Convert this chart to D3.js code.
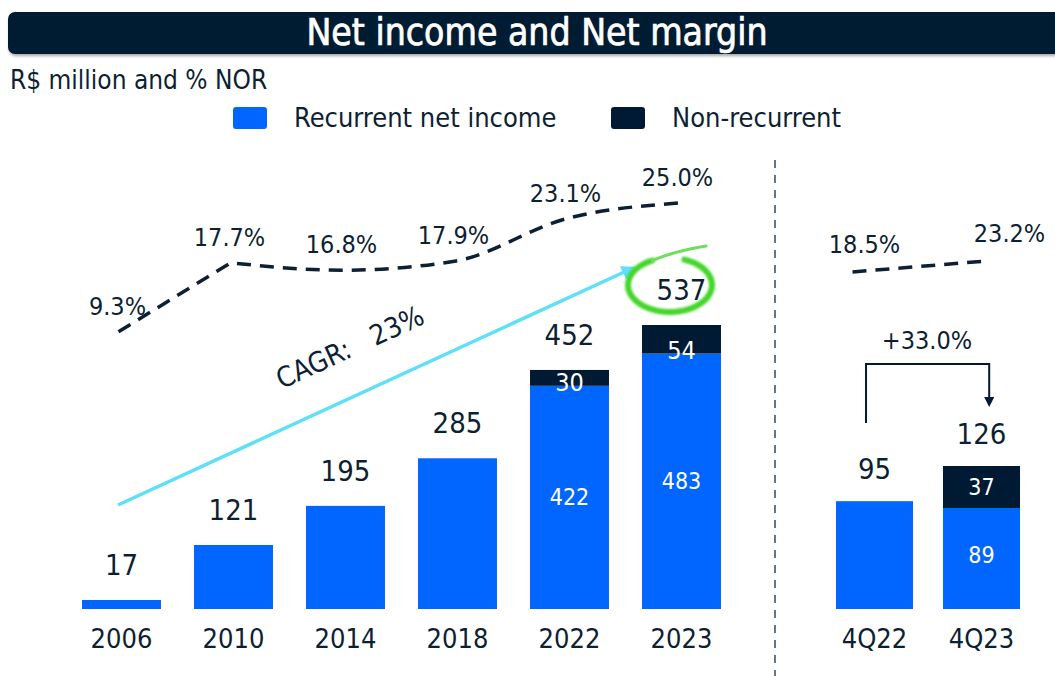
<!DOCTYPE html>
<html>
<head>
<meta charset="utf-8">
<script src="https://cdn.jsdelivr.net/npm/d3@7"></script>
<style>
body { margin: 0; background: #fff; }
text { font-family: "Liberation Sans Narrow", "DejaVu Sans Condensed", sans-serif; fill: #0d1f33; }
</style>
</head>
<body>
<div id="chart"></div>
<script>
var w = 1055;
var h = 676;

var navy = "#001a33";
var blue = "#0066ff";

// annual data
var years = ["2006", "2010", "2014", "2018", "2022", "2023"];
var recurrent = [17, 121, 195, 285, 422, 483];
var nonRecurrent = [0, 0, 0, 0, 30, 54];
var totals = [17, 121, 195, 285, 452, 537];
var margin = [9.3, 17.7, 16.8, 17.9, 23.1, 25.0];
var cagrLabel = "CAGR:   23%";

// quarterly data
var quarters = ["4Q22", "4Q23"];
var qRecurrent = [95, 89];
var qNonRecurrent = [0, 37];
var qTotals = [95, 126];
var qMargin = [18.5, 23.2];
var growthLabel = "+33.0%";

var svg = d3.select("#chart")
	.append("svg")
	.attr("width", w)
	.attr("height", h);

var defs = svg.append("defs");
defs.append("marker")
	.attr("id", "arrowCyan")
	.attr("viewBox", "0 0 10 10")
	.attr("refX", 8).attr("refY", 5)
	.attr("markerWidth", 4).attr("markerHeight", 4)
	.attr("orient", "auto")
	.append("path")
	.attr("d", "M0,0L10,5L0,10Z")
	.attr("fill", "#5fe0f7");
defs.append("marker")
	.attr("id", "arrowNavy")
	.attr("viewBox", "0 0 10 10")
	.attr("refX", 5).attr("refY", 5)
	.attr("markerWidth", 5).attr("markerHeight", 5)
	.attr("orient", "auto")
	.append("path")
	.attr("d", "M0,0L10,5L0,10Z")
	.attr("fill", navy);
var glow = defs.append("filter").attr("id", "glow")
	.attr("x", "-20%").attr("y", "-20%").attr("width", "140%").attr("height", "140%");
glow.append("feGaussianBlur").attr("stdDeviation", 0.8);
var shadow = defs.append("filter").attr("id", "shadow")
	.attr("x", "-5%").attr("y", "-20%").attr("width", "110%").attr("height", "160%");
shadow.append("feDropShadow").attr("dx", 1).attr("dy", 2).attr("stdDeviation", 1.5)
	.attr("flood-color", "#000").attr("flood-opacity", 0.35);

// title bar
svg.append("rect")
	.attr("x", 8).attr("y", 12)
	.attr("width", 1070).attr("height", 42)
	.attr("rx", 7)
	.attr("fill", navy)
	.attr("filter", "url(#shadow)");
svg.append("text")
	.attr("x", 537).attr("y", 45)
	.attr("text-anchor", "middle")
	.style("fill", "#fff")
	.style("stroke", "#fff")
	.style("stroke-width", 0.7)
	.style("font-size", "37px")
	.text("Net income and Net margin");

svg.append("text")
	.attr("x", 10).attr("y", 89)
	.style("font-size", "26px")
	.text("R$ million and % NOR");

// legend
var legend = [["Recurrent net income", blue, 233], ["Non-recurrent", navy, 611]];
legend.forEach(function (l) {
	svg.append("rect")
		.attr("x", l[2]).attr("y", 107)
		.attr("width", 34).attr("height", 22)
		.attr("rx", 3)
		.attr("fill", l[1]);
	svg.append("text")
		.attr("x", l[2] + 61).attr("y", 127)
		.style("font-size", "27px")
		.text(l[0]);
});

// scales
var x = d3.scaleBand()
	.domain(years)
	.range([65.5, 737.5])
	.paddingInner(0.295)
	.paddingOuter(0.1475);
var y = d3.scaleLinear()
	.domain([0, 537])
	.range([609, 325]);
var yM = d3.scaleLinear()
	.domain([0, 25])
	.range([408, 203]);

var xq = d3.scaleBand()
	.domain(quarters)
	.range([821, 1035])
	.paddingInner(0.28)
	.paddingOuter(0.14);
var yq = d3.scaleLinear()
	.domain([0, 126])
	.range([609, 466]);
var yqM = d3.scaleLinear()
	.domain([18.5, 23.2])
	.range([272, 261]);

// annual bars
var annual = svg.append("g");
annual.selectAll(".rec")
	.data(years)
	.enter()
	.append("rect")
	.attr("x", (d) => x(d))
	.attr("y", (d, i) => y(recurrent[i]))
	.attr("width", x.bandwidth())
	.attr("height", (d, i) => y(0) - y(recurrent[i]))
	.attr("fill", blue);
annual.selectAll(".non")
	.data(years)
	.enter()
	.append("rect")
	.attr("x", (d) => x(d))
	.attr("y", (d, i) => y(recurrent[i] + nonRecurrent[i]))
	.attr("width", x.bandwidth())
	.attr("height", (d, i) => y(recurrent[i]) - y(recurrent[i] + nonRecurrent[i]))
	.attr("fill", navy);

// totals above bars
annual.selectAll(".tot")
	.data(years)
	.enter()
	.append("text")
	.attr("x", (d) => x(d) + x.bandwidth() / 2)
	.attr("y", (d, i) => y(totals[i]) - 25)
	.attr("text-anchor", "middle")
	.style("font-size", "29px")
	.text((d, i) => totals[i]);

// inside labels
years.forEach(function (d, i) {
	if (nonRecurrent[i] > 0) {
		annual.append("text")
			.attr("x", x(d) + x.bandwidth() / 2)
			.attr("y", (y(recurrent[i]) + y(0)) / 2 + 8)
			.attr("text-anchor", "middle")
			.style("fill", "#fff")
			.style("font-size", "23px")
			.text(recurrent[i]);
		var mid = (y(recurrent[i]) + y(totals[i])) / 2;
		annual.append("text")
			.attr("x", x(d) + x.bandwidth() / 2)
			.attr("y", Math.max(mid, y(recurrent[i]) - 4) + 9)
			.attr("text-anchor", "middle")
			.style("fill", "#fff")
			.style("font-size", "25px")
			.text(nonRecurrent[i]);
	}
});

// axis labels
svg.append("g")
	.attr("transform", "translate(0,609)")
	.call(d3.axisBottom(x).tickSize(0).tickPadding(20))
	.call((g) => g.select(".domain").remove())
	.selectAll("text")
	.style("font-size", "27px")
	.style("fill", "#0d1f33");
svg.append("g")
	.attr("transform", "translate(0,609)")
	.call(d3.axisBottom(xq).tickSize(0).tickPadding(20))
	.call((g) => g.select(".domain").remove())
	.selectAll("text")
	.style("font-size", "27px")
	.style("fill", "#0d1f33");

// margin line: straight first leg, smooth after 2010
var mx = (i) => x(years[i]) + x.bandwidth() / 2 - 3;
var pts = margin.map((d, i) => [mx(i), yM(d)]);
var p0 = d3.line()(pts.slice(0, 2));
var p1 = d3.line().curve(d3.curveMonotoneX)(pts.slice(1));
svg.append("path")
	.attr("d", p0 + p1.replace(/^M[^A-Za-z]*/, function (m) { return "L" + m.slice(1); }))
	.attr("fill", "none")
	.attr("stroke", "#0d1f33")
	.attr("stroke-width", 3.5)
	.attr("stroke-dasharray", "14 9");
svg.selectAll(".mlab")
	.data(margin)
	.enter()
	.append("text")
	.attr("x", (d, i) => x(years[i]) + x.bandwidth() / 2 - 4)
	.attr("y", (d) => yM(d) - 17)
	.attr("text-anchor", "middle")
	.style("font-size", "25px")
	.text((d) => d.toFixed(1) + "%");

var qline = d3.line()
	.x((d, i) => xq(quarters[i]) + xq.bandwidth() / 2 + (i == 0 ? -22 : 5))
	.y((d) => yqM(d));
svg.append("path")
	.datum(qMargin)
	.attr("d", qline)
	.attr("fill", "none")
	.attr("stroke", "#0d1f33")
	.attr("stroke-width", 3.5)
	.attr("stroke-dasharray", "14 9");
svg.selectAll(".qmlab")
	.data(qMargin)
	.enter()
	.append("text")
	.attr("x", (d, i) => xq(quarters[i]) + xq.bandwidth() / 2 + (i == 0 ? -10 : 28))
	.attr("y", (d) => yqM(d) - 19)
	.attr("text-anchor", "middle")
	.style("font-size", "25px")
	.text((d) => d.toFixed(1) + "%");

// CAGR arrow
svg.append("line")
	.attr("x1", 118).attr("y1", 505)
	.attr("x2", 633).attr("y2", 268)
	.attr("stroke", "#5fe0f7")
	.attr("stroke-width", 3.5)
	.attr("marker-end", "url(#arrowCyan)");
var ang = Math.atan2(268 - 505, 633 - 118) * 180 / Math.PI;
svg.append("text")
	.attr("transform", "translate(354,356) rotate(" + ang + ")")
	.attr("text-anchor", "middle")
	.style("font-size", "28px")
	.attr("xml:space", "preserve")
	.text(cagrLabel);

// green highlight around 537
var cx = 670, cy = 285, rx = 42, ry = 27;
var a0 = -70 * Math.PI / 180, a1 = 245 * Math.PI / 180;
var p = d3.path();
var steps = 60;
for (var k = 0; k <= steps; k++) {
	var a = a0 + (a1 - a0) * k / steps;
	var px = cx + rx * Math.cos(a), py = cy + ry * Math.sin(a);
	if (k == 0) p.moveTo(px, py); else p.lineTo(px, py);
}
svg.append("path")
	.attr("d", p.toString())
	.attr("fill", "none")
	.attr("stroke", "#44d62c")
	.attr("stroke-width", 6)
	.attr("stroke-linecap", "round")
	.attr("filter", "url(#glow)");
var ex = cx + rx * Math.cos(a1), ey = cy + ry * Math.sin(a1);
svg.append("path")
	.attr("d", "M" + ex + "," + ey + " Q" + (cx + 5) + "," + (cy - 34) + " 706,246")
	.attr("fill", "none")
	.attr("stroke", "#6ddf5a")
	.attr("stroke-width", 3)
	.attr("stroke-linecap", "round");

// separator
svg.append("line")
	.attr("x1", 775).attr("y1", 160)
	.attr("x2", 775).attr("y2", 676)
	.attr("stroke", "#34495e")
	.attr("stroke-width", 1.5)
	.attr("stroke-dasharray", "8 7");

// quarterly bars
var quarterly = svg.append("g");
quarterly.selectAll(".rec")
	.data(quarters)
	.enter()
	.append("rect")
	.attr("x", (d) => xq(d))
	.attr("y", (d, i) => yq(qRecurrent[i]))
	.attr("width", xq.bandwidth())
	.attr("height", (d, i) => yq(0) - yq(qRecurrent[i]))
	.attr("fill", blue);
quarterly.selectAll(".non")
	.data(quarters)
	.enter()
	.append("rect")
	.attr("x", (d) => xq(d))
	.attr("y", (d, i) => yq(qRecurrent[i] + qNonRecurrent[i]))
	.attr("width", xq.bandwidth())
	.attr("height", (d, i) => yq(qRecurrent[i]) - yq(qRecurrent[i] + qNonRecurrent[i]))
	.attr("fill", navy);
quarterly.selectAll(".tot")
	.data(quarters)
	.enter()
	.append("text")
	.attr("x", (d) => xq(d) + xq.bandwidth() / 2)
	.attr("y", (d, i) => yq(qTotals[i]) - 22)
	.attr("text-anchor", "middle")
	.style("font-size", "29px")
	.text((d, i) => qTotals[i]);
quarters.forEach(function (d, i) {
	if (qNonRecurrent[i] > 0) {
		quarterly.append("text")
			.attr("x", xq(d) + xq.bandwidth() / 2)
			.attr("y", (yq(qRecurrent[i]) + yq(0)) / 2 + 5)
			.attr("text-anchor", "middle")
			.style("fill", "#fff")
			.style("font-size", "23px")
			.text(qRecurrent[i]);
		quarterly.append("text")
			.attr("x", xq(d) + xq.bandwidth() / 2)
			.attr("y", (yq(qRecurrent[i]) + yq(qTotals[i])) / 2 + 8)
			.attr("text-anchor", "middle")
			.style("fill", "#fff")
			.style("font-size", "23px")
			.text(qNonRecurrent[i]);
	}
});

// growth bracket
var bx0 = xq("4Q22") + xq.bandwidth() * 0.39;
var bx1 = xq("4Q23") + xq.bandwidth() * 0.6;
svg.append("path")
	.attr("d", "M" + bx0 + ",423 V364 H" + bx1 + " V402")
	.attr("fill", "none")
	.attr("stroke", navy)
	.attr("stroke-width", 2)
	.attr("marker-end", "url(#arrowNavy)");
svg.append("text")
	.attr("x", 927).attr("y", 349)
	.attr("text-anchor", "middle")
	.style("font-size", "25px")
	.text(growthLabel);
</script>
</body>
</html>
